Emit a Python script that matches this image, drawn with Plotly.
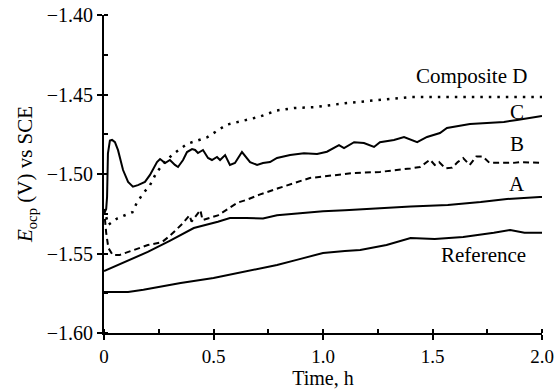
import plotly.graph_objects as go

# ---- data (time in h, potential in V vs SCE) ----
ref_t = [0, 0.11, 0.18, 0.25, 0.35, 0.5, 0.6, 0.7, 0.79, 0.88, 1.0, 1.1, 1.17, 1.29, 1.40, 1.51, 1.64, 1.78, 1.855, 1.92, 2.0]
ref_v = [-1.5742, -1.5742, -1.5728, -1.5710, -1.5685, -1.5654, -1.5625, -1.5595, -1.5572, -1.5540, -1.5497,
         -1.5485, -1.5478, -1.5446, -1.5402, -1.5409, -1.5396, -1.5370, -1.5352, -1.5370, -1.5370]

a_t = [0, 0.05, 0.1, 0.2, 0.3, 0.41, 0.52, 0.575, 0.65, 0.726, 0.79, 0.9, 1.0, 1.1, 1.2, 1.28, 1.4, 1.57, 1.72, 1.84, 1.99, 2.0]
a_v = [-1.561, -1.558, -1.555, -1.549, -1.542, -1.534, -1.530, -1.5277, -1.5277, -1.528, -1.526, -1.5245,
       -1.5235, -1.5228, -1.5222, -1.5214, -1.5205, -1.5195, -1.5176, -1.5157, -1.5145, -1.5145]

b_t = [0, 0.01, 0.02, 0.04, 0.07, 0.11, 0.155, 0.2, 0.265, 0.3, 0.33, 0.36, 0.39, 0.40, 0.44, 0.45, 0.52, 0.575,
       0.61, 0.65, 0.71, 0.795, 0.94, 1.14, 1.26, 1.40, 1.443, 1.489, 1.51, 1.53, 1.56, 1.59, 1.615, 1.64, 1.67,
       1.70, 1.73, 1.76, 1.82, 1.87, 1.90, 1.96, 2.0]
b_v = [-1.522, -1.537, -1.5465, -1.551, -1.551, -1.549, -1.5465, -1.5447, -1.5428, -1.539, -1.535, -1.531,
       -1.526, -1.530, -1.5227, -1.529, -1.526, -1.5214, -1.518, -1.5163, -1.513, -1.509, -1.5025, -1.4994,
       -1.4987, -1.4965, -1.4956, -1.491, -1.4943, -1.4925, -1.4965, -1.496, -1.4925, -1.490, -1.4943,
       -1.489, -1.489, -1.493, -1.493, -1.493, -1.4925, -1.493, -1.493]

c_t = [0, 0.010, 0.014, 0.018, 0.027, 0.037, 0.05, 0.064, 0.087, 0.11, 0.132, 0.155, 0.187, 0.21, 0.242, 0.256,
       0.279, 0.301, 0.324, 0.338, 0.361, 0.379, 0.402, 0.416, 0.429, 0.452, 0.475, 0.493, 0.516, 0.530, 0.553,
       0.575, 0.598, 0.630, 0.667, 0.699, 0.726, 0.758, 0.790, 0.85, 0.913, 0.973, 1.018, 1.073, 1.096, 1.142,
       1.187, 1.233, 1.26, 1.324, 1.37, 1.43, 1.475, 1.534, 1.566, 1.612, 1.671, 1.749, 1.826, 1.886, 1.932, 2.0]
c_v = [-1.525, -1.522, -1.5145, -1.487, -1.479, -1.4786, -1.480, -1.485, -1.4975, -1.505, -1.508, -1.507,
       -1.505, -1.5006, -1.4925, -1.4906, -1.4931, -1.4912, -1.4943, -1.4956, -1.4912, -1.4862, -1.4843,
       -1.4849, -1.4868, -1.4849, -1.4899, -1.4912, -1.4893, -1.4912, -1.4881, -1.4943, -1.4931, -1.4862,
       -1.4925, -1.4943, -1.4931, -1.4925, -1.4899, -1.488, -1.487, -1.4874, -1.486, -1.4818, -1.4837, -1.480,
       -1.4805, -1.483, -1.480, -1.4786, -1.4767, -1.480, -1.4767, -1.4742, -1.471, -1.4698, -1.4686, -1.468,
       -1.4673, -1.466, -1.4648, -1.4635]

d_t = [0, 0.02, 0.06, 0.1, 0.13, 0.15, 0.18, 0.21, 0.24, 0.28, 0.32, 0.38, 0.47, 0.56, 0.71, 0.79, 0.87, 0.96,
       1.10, 1.25, 1.40, 1.55, 1.70, 2.0]
d_v = [-1.522, -1.532, -1.528, -1.526, -1.524, -1.518, -1.512, -1.507, -1.499, -1.492, -1.487, -1.481, -1.477,
       -1.469, -1.464, -1.460, -1.4585, -1.458, -1.4555, -1.4535, -1.4516, -1.4516, -1.4516, -1.4516]

labels = ["Composite D", "C", "B", "A", "Reference"]
label_t = [1.676, 1.886, 1.886, 1.886, 1.735]
label_v = [-1.4384, -1.461, -1.4811, -1.5063, -1.551]

x_tickvals = [0, 0.5, 1.0, 1.5, 2.0]
x_ticktext = ["0", "0.5", "1.0", "1.5", "2.0"]

FONT = "Liberation Serif, Times New Roman, Times, serif"
fig = go.Figure()
line = dict(color="black", width=2)
fig.add_trace(go.Scatter(x=ref_t, y=ref_v, mode="lines", line=line))
fig.add_trace(go.Scatter(x=a_t, y=a_v, mode="lines", line=line))
fig.add_trace(go.Scatter(x=b_t, y=b_v, mode="lines", line=dict(color="black", width=2, dash="6px,4px")))
fig.add_trace(go.Scatter(x=c_t, y=c_v, mode="lines", line=line))
fig.add_trace(go.Scatter(x=d_t, y=d_v, mode="lines", line=dict(color="black", width=2.5, dash="2.5px,6px")))

for txt, tx, ty in zip(labels, label_t, label_v):
    fig.add_annotation(x=tx, y=ty, text=txt, showarrow=False, xanchor="center", yanchor="middle",
                       font=dict(family=FONT, size=21, color="black"))

fig.update_layout(
    width=554, height=389,
    margin=dict(l=104, r=12, t=15, b=56),
    paper_bgcolor="white", plot_bgcolor="white",
    showlegend=False,
    font=dict(family=FONT, size=20, color="black"),
)
fig.update_xaxes(
    range=[0, 2.0], tickvals=x_tickvals, ticktext=x_ticktext,
    showline=True, linecolor="black", linewidth=2, showgrid=False, zeroline=False,
    ticks="outside", ticklen=5, tickwidth=2, tickcolor="black",
    tickfont=dict(family=FONT, size=19), ticklabeloverflow="allow",
    minor=dict(ticks="inside", dtick=0.25, ticklen=4, tickwidth=2, tickcolor="black", showgrid=False),
    title=dict(text="Time, h", font=dict(family=FONT, size=20), standoff=7),
    automargin=False,
)
fig.update_yaxes(
    range=[-1.60, -1.40], dtick=0.05, tickformat=".2f",
    showline=True, linecolor="black", linewidth=2, showgrid=False, zeroline=False,
    ticks="outside", ticklen=5, tickwidth=2, tickcolor="black",
    tickfont=dict(family=FONT, size=20), ticklabeloverflow="allow",
    minor=dict(ticks="inside", dtick=0.025, ticklen=4, tickwidth=2, tickcolor="black", showgrid=False),
    title=dict(text="<i>E</i><sub>ocp</sub> (V) vs SCE", font=dict(family=FONT, size=21), standoff=8),
    automargin=False,
)
fig.write_html("out.html")
